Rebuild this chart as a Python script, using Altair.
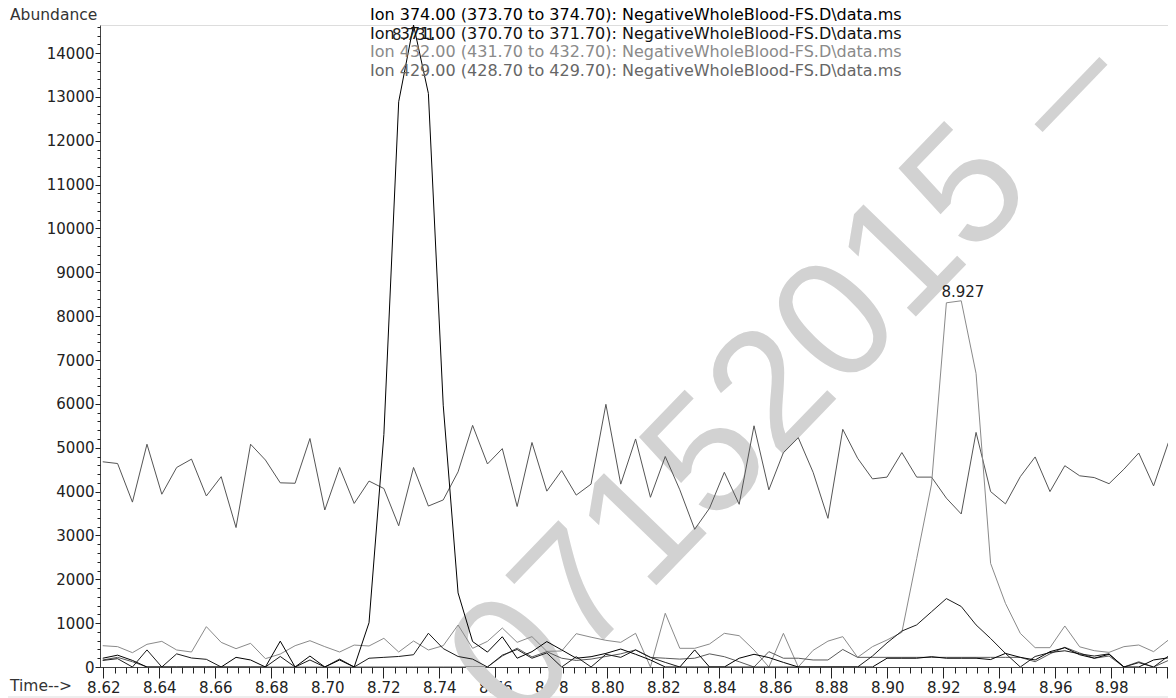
import altair as alt
import pandas as pd

# ---- sampling times (min) ----
times = [8.6198, 8.6251, 8.6304, 8.6356, 8.6409, 8.6462, 8.6515, 8.6568, 8.6621, 8.6674,
         8.6726, 8.6779, 8.6832, 8.6885, 8.6938, 8.6991, 8.7044, 8.7096, 8.7149, 8.7202,
         8.7255, 8.7308, 8.7361, 8.7414, 8.7467, 8.7519, 8.7572, 8.7625, 8.7678, 8.7731,
         8.7784, 8.7837, 8.7889, 8.7942, 8.7995, 8.8048, 8.8101, 8.8154, 8.8207, 8.8259,
         8.8312, 8.8365, 8.8418, 8.8471, 8.8524, 8.8577, 8.8629, 8.8682, 8.8735, 8.8788,
         8.8841, 8.8894, 8.8947, 8.8999, 8.9052, 8.9105, 8.9158, 8.9211, 8.9264, 8.9317,
         8.9369, 8.9422, 8.9475, 8.9528, 8.9581, 8.9634, 8.9687, 8.9739, 8.9792, 8.9845,
         8.9898, 8.9951, 9.0004, 9.0057]

# ---- abundances ----
ion374 = [200, 270, 150, 0, 0, 0, 0, 0, 0, 220,
          160, 0, 590, 0, 250, 0, 160, 0, 1010, 5300,
          12890, 14640, 13080, 5970, 1690, 580, 340, 690, 200, 350,
          580, 390, 200, 235, 310, 410, 290, 160, 0, 0,
          390, 0, 0, 200, 290, 215, 105, 0, 0, 0,
          0, 0, 0, 200, 200, 200, 235, 200, 200, 200,
          170, 310, 220, 160, 350, 440, 280, 200, 290, 0,
          0, 160, 210, 250]

ion371 = [150, 190, 0, 390, 0, 300, 205, 175, 0, 0,
          0, 0, 240, 0, 160, 0, 180, 0, 200, 220,
          240, 280, 770, 420, 240, 180, 0, 270, 400, 200,
          320, 0, 235, 0, 290, 220, 390, 220, 105, 0,
          0, 0, 0, 0, 0, 0, 0, 0, 0, 0,
          0, 0, 250, 550, 820, 960, 1260, 1560, 1380, 960,
          650, 310, 0, 240, 330, 370, 300, 250, 300, 0,
          100, 0, 250, 300]

ion432 = [486, 464, 327, 517, 585, 388, 342, 920, 562, 418,
          540, 190, 296, 486, 600, 464, 342, 500, 479, 654,
          342, 593, 388, 486, 958, 426, 585, 889, 562, 692,
          357, 365, 760, 680, 608, 562, 768, 0, 1225, 426,
          426, 524, 768, 714, 388, 0, 768, 0, 380, 590,
          692, 220, 464, 616, 790, 2470, 4172, 8305, 8351, 6695,
          2363, 1451, 767, 441, 441, 935, 460, 372, 334, 464,
          502, 350, 616, 700]

ion429 = [160, 220, 120, 0, 0, 0, 0, 0, 0, 0,
          0, 0, 0, 0, 0, 0, 0, 0, 0, 0,
          0, 0, 0, 0, 0, 0, 0, 250, 430, 230,
          350, 200, 150, 180, 240, 300, 390, 220, 200, 180,
          200, 300, 235, 120, 0, 350, 200, 200, 160, 160,
          400, 220, 220, 220, 220, 220, 220, 220, 220, 220,
          220, 220, 220, 120, 300, 450, 320, 200, 250, 0,
          120, 0, 150, 200]

background = [4680, 4640, 3760, 5080, 3940, 4550, 4740, 3900, 4340, 3180,
              5080, 4720, 4200, 4190, 5210, 3580, 4550, 3730, 4240, 4070,
              3220, 4550, 3670, 3810, 4450, 5510, 4630, 4980, 3660, 5120,
              4010, 4480, 3920, 4170, 5990, 4170, 5200, 3870, 4800, 4040,
              3140, 3620, 4440, 3710, 5500, 4040, 4890, 5230, 4440, 3390,
              5420, 4760, 4290, 4330, 4890, 4330, 4330, 3850, 3490, 5350,
              4000, 3720, 4340, 4790, 4000, 4590, 4360, 4320, 4180, 4510,
              4880, 4130, 5120, 5020]

series_names = ["background", "ion432", "ion429", "ion371", "ion374"]
series_vals = [background, ion432, ion429, ion371, ion374]
series_colors = ["#555555", "#8a8a8a", "#5a5a5a", "#1c1c1c", "#000000"]

legend_lines = [
    "Ion 374.00 (373.70 to 374.70): NegativeWholeBlood-FS.D\\data.ms",
    "Ion 371.00 (370.70 to 371.70): NegativeWholeBlood-FS.D\\data.ms",
    "Ion 432.00 (431.70 to 432.70): NegativeWholeBlood-FS.D\\data.ms",
    "Ion 429.00 (428.70 to 429.70): NegativeWholeBlood-FS.D\\data.ms",
]
legend_colors = ["#000000", "#111111", "#8a8a8a", "#666666"]
legend_py = [-10, 8.5, 27, 45.5]

peak_times = [8.7308, 8.9270]
peak_vals = [14640, 8351]
peak_labels = ["8.731", "8.927"]

x_major = [round(8.62 + 0.02 * i, 2) for i in range(20)]
x_minor = [round(8.62 + 0.004 * i, 3) for i in range(96)]
y_major = [1000 * i for i in range(15)]
y_minor = [200 * i for i in range(74)]

rows = []
for name, vals in zip(series_names, series_vals):
    for t, v in zip(times, vals):
        rows.append({"t": t, "v": v, "s": name})
df = pd.DataFrame(rows)

W, H = 1068, 642
FONT = "DejaVu Sans"
xs = alt.Scale(domain=[8.61882, 9.00025], nice=False, zero=False)
ys = alt.Scale(domain=[0, 14640], nice=False, zero=False)

lines = alt.Chart(df).mark_line(strokeWidth=1, clip=True).encode(
    x=alt.X("t:Q", scale=xs, axis=alt.Axis(
        values=x_major, title=None, grid=False, orient="bottom",
        labelExpr="datum.value > 8.99 ? '' : format(datum.value, '.2f')",
        tickSize=11, tickColor="#222", domainColor="#444", labelPadding=2,
        labelFont=FONT, labelFontSize=15, labelColor="#222",
        labelFlush=False, labelOverlap=False)),
    y=alt.Y("v:Q", scale=ys, axis=alt.Axis(
        values=y_major, title=None, grid=False, orient="left", format="d",
        tickSize=5, tickColor="#222", domainColor="#444", labelPadding=1,
        labelFont=FONT, labelFontSize=15, labelColor="#222",
        labelFlush=False, labelOverlap=False)),
    color=alt.Color("s:N", scale=alt.Scale(domain=series_names, range=series_colors), legend=None),
)

minor = alt.Chart(df).mark_line(opacity=0).encode(
    x=alt.X("t:Q", scale=xs, axis=alt.Axis(
        values=x_minor, title=None, grid=False, orient="bottom", labels=False,
        tickSize=6, tickColor="#222", domain=False)),
    y=alt.Y("v:Q", scale=ys, axis=alt.Axis(
        values=y_minor, title=None, grid=False, orient="left", labels=False,
        tickSize=3, tickColor="#222", domain=False)),
)

wm_df = pd.DataFrame({"txt": ["07152015 \u2013"]})
watermark = alt.Chart(wm_df).mark_text(
    font="Liberation Sans", fontSize=168, angle=314, color="#d2d2d2",
    align="center", baseline="middle").encode(
    x=alt.value(690), y=alt.value(350), text="txt:N")

# light frame lines at the very top and bottom of the picture
frame = alt.Chart(pd.DataFrame({"py": [-21, 672]})).mark_rule(
    color="#dddddd", strokeWidth=1).encode(
    x=alt.value(-92), x2=alt.value(1076), y=alt.Y("py:Q", scale=None, axis=None))

leg_df = pd.DataFrame({"label": legend_lines, "py": legend_py, "c": legend_colors})
legend = alt.Chart(leg_df).mark_text(
    font=FONT, fontSize=16, align="left", baseline="middle").encode(
    x=alt.value(270), y=alt.Y("py:Q", scale=None, axis=None), text="label:N",
    color=alt.Color("c:N", scale=None, legend=None))

pk_df = pd.DataFrame({"t": peak_times, "v": peak_vals, "label": peak_labels})
pk1 = alt.Chart(pk_df.iloc[[0]]).mark_text(
    font=FONT, fontSize=15, dy=10, baseline="middle", color="#222").encode(
    x=alt.X("t:Q", scale=xs, axis=None), y=alt.Y("v:Q", scale=ys, axis=None), text="label:N")
pk2 = alt.Chart(pk_df.iloc[[1]]).mark_text(
    font=FONT, fontSize=15, dy=-9, baseline="middle", color="#222").encode(
    x=alt.X("t:Q", scale=xs, axis=None), y=alt.Y("v:Q", scale=ys, axis=None), text="label:N")

ab_df = pd.DataFrame({"txt": ["Abundance", "Time-->"], "px": [-90, -90], "py": [-10, 661]})
titles = alt.Chart(ab_df).mark_text(
    font=FONT, fontSize=15.5, align="left", baseline="middle", color="#333").encode(
    x=alt.X("px:Q", scale=None, axis=None), y=alt.Y("py:Q", scale=None, axis=None), text="txt:N")

chart = alt.layer(frame, watermark, lines, minor, legend, pk1, pk2, titles).resolve_axis(
    x="independent", y="independent"
).properties(
    width=W, height=H,
    autosize=alt.AutoSizeParams(type="none"),
    padding={"left": 92, "top": 17, "right": 0, "bottom": 32},
).configure_view(stroke=None).configure(background="white")

chart.save("out.html", embed_options={"renderer": "svg", "actions": False})
